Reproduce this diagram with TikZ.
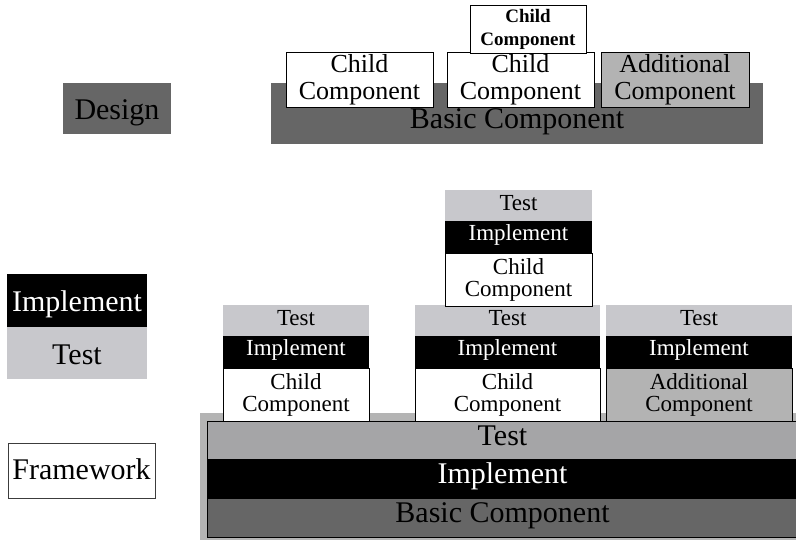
\documentclass[tikz,border=0pt]{standalone}
\usepackage{fontspec}
\setmainfont{Liberation Serif}
\definecolor{testc}{HTML}{C8C8CC}
\definecolor{addc}{HTML}{B3B3B3}
\definecolor{bandc}{HTML}{A5A5A7}
\definecolor{basec}{HTML}{666666}
\definecolor{framec}{HTML}{B4B4B4}
\definecolor{fwborder}{HTML}{3C3C3C}
% name, x1, y1, x2, y2, style, text
\newcommand\rbox[7]{\node[blk,#6,minimum width={((#4)-(#2))*1pt},minimum height={((#5)-(#3))*1pt}] (#1) at (#2,#3) {#7};}
% prefix, x1, x2, y0, child style, child text
\newcommand\stackbox[6]{%
  \rbox{#1t}{#2}{#4}{#3}{#4+31}{smtest}{Test}
  \rbox{#1i}{#2}{#4+31}{#3}{#4+63}{smimp}{Implement}
  \rbox{#1c}{#2}{#4+63}{#3}{#4+116}{smchild,#5}{#6}}
\begin{document}
\begin{tikzpicture}[x=1pt,y=-1pt,
  blk/.style={inner sep=0pt,outer sep=0pt,anchor=north west,align=center},
  big/.style={font=\fontsize{30}{30}\selectfont},
  mid/.style={font=\fontsize{26}{27}\selectfont},
  sml/.style={font=\fontsize{23}{22}\selectfont},
  bsml/.style={font=\bfseries\fontsize{19}{23}\selectfont},
  childbox/.style={draw=black,line width=0.9pt,fill=white},
  addbox/.style={draw=black,line width=0.9pt,fill=addc},
  smtest/.style={fill=testc,sml,text height=17pt,text depth=7pt},
  smimp/.style={fill=black,text=white,sml,text height=14.5pt,text depth=7pt},
  smchild/.style={childbox,sml}]
\useasboundingbox (0,0) rectangle (796,541);

% ---- legend
\rbox{design}{63}{83}{171}{134}{fill=basec,big,text height=31pt,text depth=9pt}{Design}
\rbox{limp}{7}{274}{147}{327}{fill=black,text=white,big,text height=31pt,text depth=9pt}{Implement}
\rbox{ltest}{7}{327}{147}{379}{fill=testc,big,text height=31pt,text depth=9pt}{Test}
\rbox{fw}{8}{443}{155}{498}{draw=fwborder,line width=0.9pt,fill=white,big,text height=26pt,text depth=9pt}{Framework}

% ---- design row
\rbox{dbasic}{271}{83}{763}{144}{fill=basec,big,text height=44pt,text depth=15pt}{Basic Component}
\rbox{dc1}{286}{52}{433}{107}{childbox,mid}{Child\\Component}
\rbox{dc2}{447}{52}{594}{107}{childbox,mid}{Child\\Component}
\rbox{dadd}{601}{52}{749}{107}{addbox,mid}{Additional\\Component}
\rbox{dtop}{470}{5}{586}{53}{childbox,bsml}{Child\\Component}

% ---- framework
\rbox{fouter}{200}{413}{806}{540}{fill=framec}{}
\rbox{fbox}{207}{421}{798}{537}{draw=black,line width=0.9pt}{}
\rbox{ftest}{207}{421}{798}{459}{fill=bandc,big,text height=19pt,text depth=9pt}{Test}
\rbox{fimp}{207}{459}{798}{499}{fill=black,text=white,big,text height=17pt,text depth=9pt}{Implement}
\rbox{fbasic}{207}{499}{798}{537}{fill=basec,big,text height=17pt,text depth=9pt}{Basic Component}
\draw[line width=0.9pt] (fbox.north west) rectangle (fbox.south east);

% ---- stacks
\stackbox{sa}{223}{369}{305}{}{Child\\Component}
\stackbox{sb}{415}{600}{305}{}{Child\\Component}
\stackbox{sc}{606}{792}{305}{fill=addc}{Additional\\Component}
\stackbox{sd}{445}{592}{190}{}{Child\\Component}
\end{tikzpicture}
\end{document}
